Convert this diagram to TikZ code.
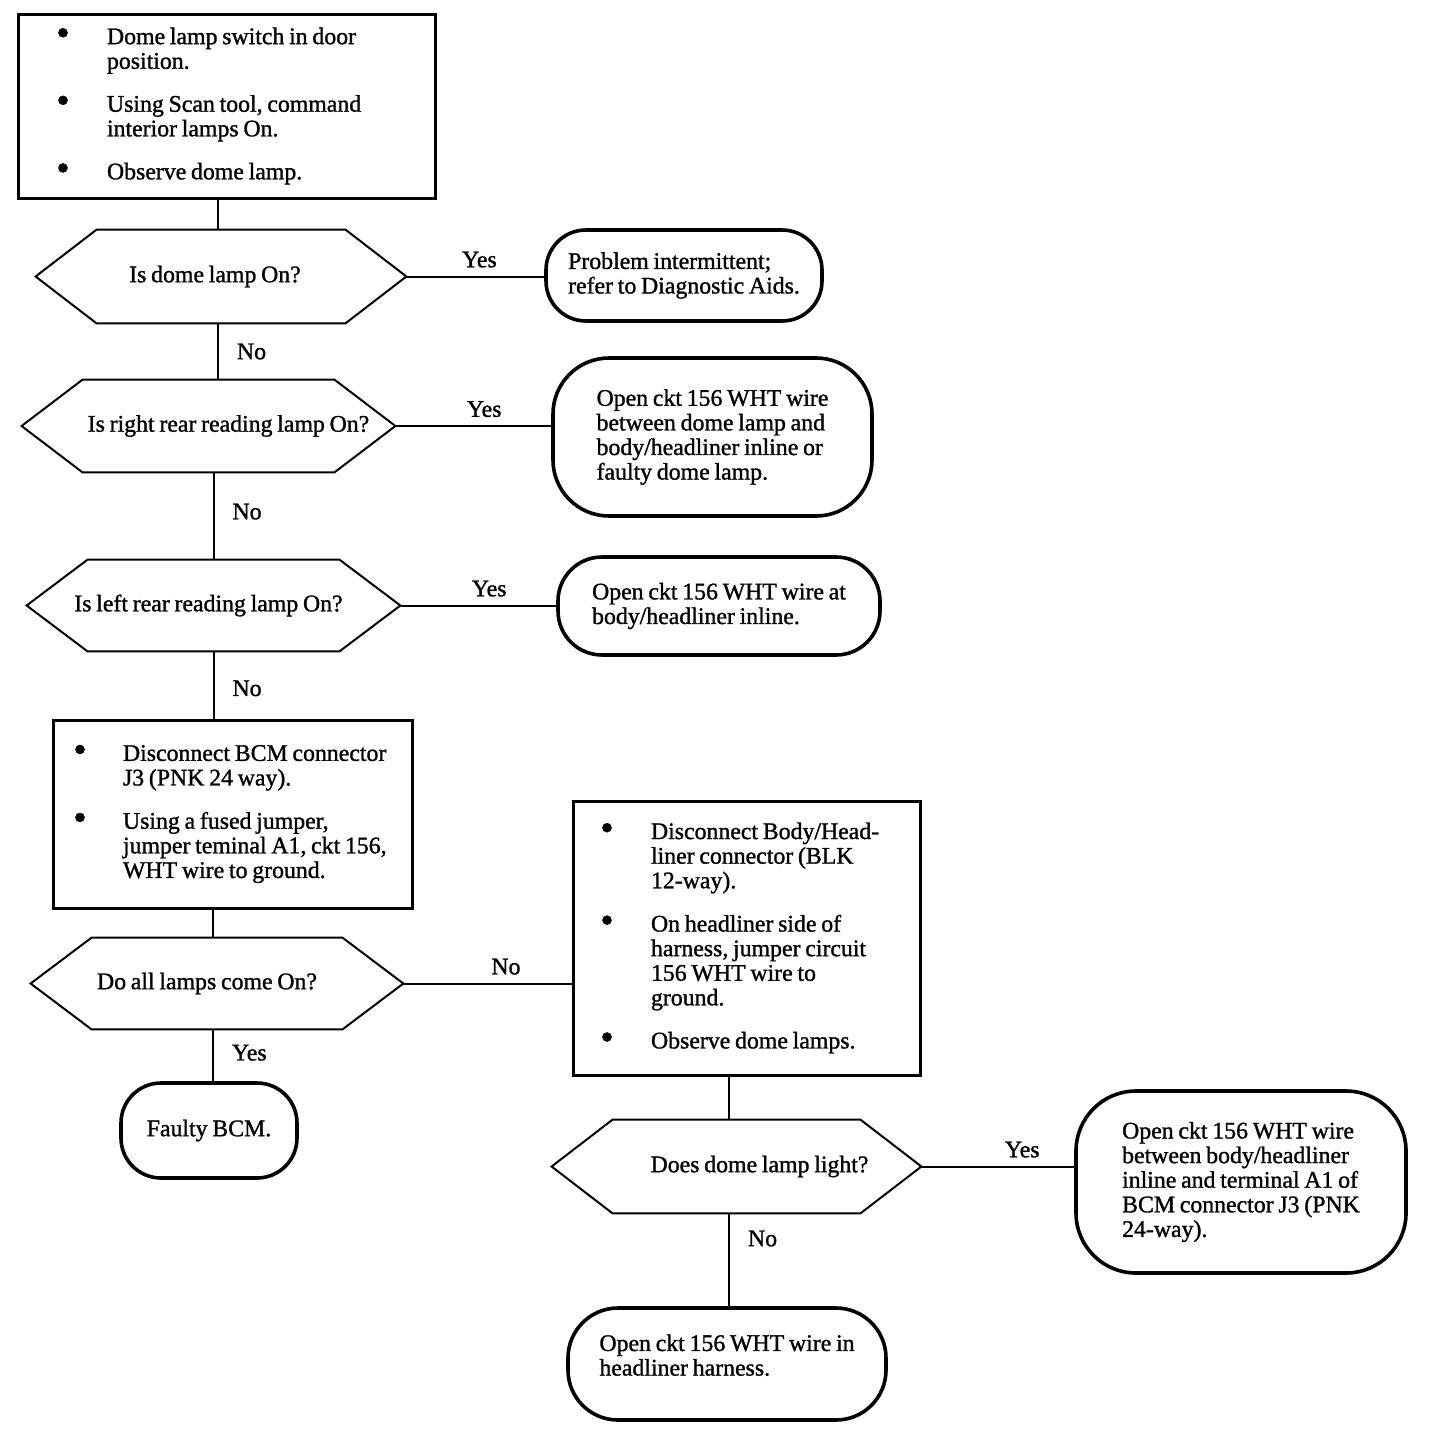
\documentclass[tikz,border=0pt]{standalone}
\usepackage{fontspec}
\setmainfont{Liberation Serif}[WordSpace=0.8,BoldFont={Liberation Serif},BoldFeatures={FakeBold=1.2}]
\usetikzlibrary{calc}
\newcommand\bulsym{\raisebox{-0.6pt}{\fontsize{19}{12}\selectfont\textbullet}}
\newcommand\bitem[3]{\noindent\spaceskip=0pt\xspaceskip=0pt\hspace*{#1}\makebox[0pt]{\bulsym}\hspace*{\dimexpr#2-#1\relax}\parbox[t]{170pt}{\raggedright\spaceskip=0pt\xspaceskip=0pt #3}\par}
\newcommand\drawhex[1]{\draw[hexline] (#1.west) -- ([xshift=30.5pt]#1.north west) -- ([xshift=-30.5pt]#1.north east) -- (#1.east) -- ([xshift=-30.5pt]#1.south east) -- ([xshift=30.5pt]#1.south west) -- cycle;}
\tikzset{
  boxnode/.style={draw, line width=1.5pt, rectangle, inner sep=0pt, align=left},
  termnode/.style={draw, line width=1.8pt, rectangle, rounded corners=20pt, inner sep=0pt, align=left},
  hexnode/.style={rectangle, inner sep=0pt, align=center},
  hexline/.style={line width=1pt, line join=miter},
  conn/.style={line width=1pt},
  lbl/.style={inner sep=2pt}
}
\begin{document}
\begin{tikzpicture}[x=0.5pt,y=-0.5pt,font=\fontsize{11.9}{12.3}\selectfont\bfseries]
\useasboundingbox (0,0) rectangle (1440,1440);

% boxes
\node[boxnode, minimum width=208.5pt, text width=208.5pt, minimum height=92pt] (b1) at (226.5,106)
 {\bitem{22.5pt}{44.5pt}{Dome lamp switch in door\\position.}\vspace{9.7pt}%
  \bitem{22.5pt}{44.5pt}{Using Scan tool, command\\interior lamps On.}\vspace{9.7pt}%
  \bitem{22.5pt}{44.5pt}{Observe dome lamp.}};

\node[boxnode, minimum width=179.5pt, text width=179.5pt, minimum height=94pt] (b2) at (232.5,814)
 {\bitem{13.5pt}{35pt}{Disconnect BCM connector\\J3 (PNK 24 way).}\vspace{9.7pt}%
  \bitem{13.5pt}{35pt}{Using a fused jumper,\\jumper teminal A1, ckt 156,\\WHT wire to ground.}};

\node[boxnode, minimum width=173.5pt, text width=173.5pt, minimum height=137pt] (b3) at (746.5,938)
 {\bitem{17pt}{39pt}{Disconnect Body/Head-\\liner connector (BLK\\12-way).}\vspace{9.7pt}%
  \bitem{17pt}{39pt}{On headliner side of\\harness, jumper circuit\\156 WHT wire to\\ground.}\vspace{9.7pt}%
  \bitem{17pt}{39pt}{Observe dome lamps.}};

% decisions
\node[hexnode, minimum width=185pt, minimum height=46.5pt] (h1) at (221,276.5) {Is dome lamp On?\hspace*{6pt}};
\drawhex{h1}
\node[hexnode, minimum width=186.5pt, minimum height=46pt] (h2) at (208.5,426) {\hspace*{20pt}Is right rear reading lamp On?};
\drawhex{h2}
\node[hexnode, minimum width=186.5pt, minimum height=45.5pt] (h3) at (213.5,605.5) {\raisebox{2.5pt}{Is left rear reading lamp On?}\hspace*{5pt}};
\drawhex{h3}
\node[hexnode, minimum width=186pt, minimum height=45.5pt] (h4) at (217,983.5) {Do all lamps come On?\hspace*{10pt}};
\drawhex{h4}
\node[hexnode, minimum width=184.5pt, minimum height=46.5pt] (h5) at (736.5,1166.5) {\hspace*{23pt}Does dome lamp light?};
\drawhex{h5}

% terminals
\node[termnode, minimum width=138pt, minimum height=45.5pt] (t1) at (684,275.5)
 {Problem intermittent;\\refer to Diagnostic Aids.};
\node[termnode, minimum width=159.5pt, minimum height=79pt, rounded corners=28pt] (t2) at (712.5,437)
 {Open ckt 156 WHT wire\\between dome lamp and\\body/headliner inline or\\faulty dome lamp.};
\node[termnode, minimum width=161pt, minimum height=49pt, rounded corners=22pt] (t3) at (719,606)
 {Open ckt 156 WHT wire at\\body/headliner inline.};
\node[termnode, minimum width=88pt, minimum height=47.5pt] (t4) at (209,1130.5)
 {\raisebox{2.5pt}{Faulty BCM.}};
\node[termnode, minimum width=165pt, minimum height=91pt, rounded corners=30pt] (t5) at (1241,1182)
 {Open ckt 156 WHT wire\\between body/headliner\\inline and terminal A1 of\\BCM connector J3 (PNK\\24-way).};
\node[termnode, minimum width=159pt, minimum height=56pt, rounded corners=25pt] (t6) at (727,1364)
 {Open ckt 156 WHT wire in\\headliner harness.\\[-3.3pt]\mbox{}};

% connectors
\draw[conn] ([xshift=-1.5pt]b1.south -| h1.north) -- ([xshift=-1.5pt]h1.north);
\draw[conn] ([xshift=-1.5pt]h1.south) -- node[lbl,right=7pt]{No} ([xshift=-1.5pt]h1.south |- h2.north);
\draw[conn] (h3.north |- h2.south) -- node[lbl,right=7pt,pos=.45]{No} (h3.north);
\draw[conn] (h3.south) -- node[lbl,right=7pt,pos=.55]{No} (h3.south |- b2.north);
\draw[conn] ([xshift=-2pt]h4.north |- b2.south) -- ([xshift=-2pt]h4.north);
\draw[conn] ([xshift=-2pt]h4.south) -- node[lbl,right=7pt,pos=.45]{Yes} ([xshift=-2pt]h4.south |- t4.north);
\draw[conn] ([xshift=-3.75pt]h5.north |- b3.south) -- ([xshift=-3.75pt]h5.north);
\draw[conn] ([xshift=-3.75pt]h5.south) -- node[lbl,right=7pt,pos=.27]{No} ([xshift=-3.75pt]h5.south |- t6.north);

\draw[conn] (h1.east) -- node[lbl,above=2pt,pos=.53]{Yes} (h1.east -| t1.west);
\draw[conn] (h2.east) -- node[lbl,above=2pt,pos=.57]{Yes} (h2.east -| t2.west);
\draw[conn] (h3.east) -- node[lbl,above=2pt,pos=.57]{Yes} (h3.east -| t3.west);
\draw[conn] (h4.east) -- node[lbl,above=2pt,pos=.61]{No} (h4.east -| b3.west);
\draw[conn] (h5.east) -- node[lbl,above=2pt,pos=.66]{Yes} (h5.east -| t5.west);
\end{tikzpicture}
\end{document}
